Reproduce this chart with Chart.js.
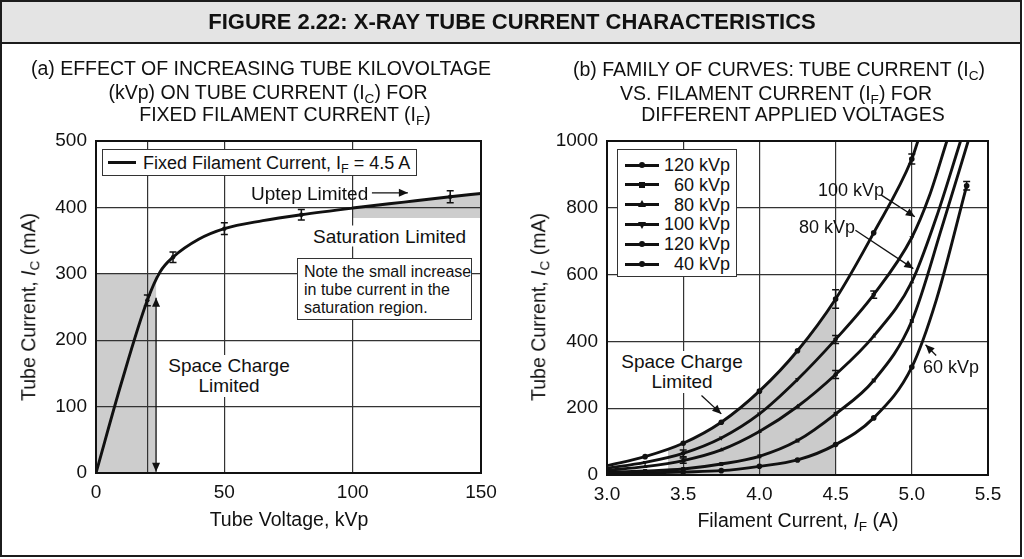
<!DOCTYPE html>
<html><head><meta charset="utf-8">
<script src="https://cdn.jsdelivr.net/npm/chart.js@4.4.1/dist/chart.umd.min.js"></script>
<style>
html,body{margin:0;padding:0;background:#fff;}
#root{position:relative;width:1024px;height:559px;overflow:hidden;font-family:"Liberation Sans",Arial,Helvetica,sans-serif;color:#111;}
#frame{position:absolute;left:0;top:0;width:1018px;height:553px;border:2px solid #1c1c1c;}
#band{position:absolute;left:2px;top:2px;width:1018px;height:40px;background:#e4e4e4;border-bottom:2px solid #1c1c1c;}
canvas{position:absolute;top:0;}
.t{position:absolute;white-space:nowrap;line-height:1;transform:translate(-50%,-50%);}
.l{position:absolute;white-space:nowrap;line-height:1;transform:translateY(-50%);}
sub{font-size:70%;vertical-align:-0.3em;line-height:0;}
.bg{background:#fff;padding:1px 2px;}
.rot{transform:translate(-50%,-50%) rotate(-90deg);}
</style></head>
<body><div id="root">
<div id="frame"></div>
<div id="band"></div>
<canvas id="cl" width="512" height="559" style="left:0"></canvas>
<canvas id="cr" width="512" height="559" style="left:512px"></canvas>

<div class="t" style="left:512px;top:22px;font-size:22px;font-weight:bold;">FIGURE 2.22: X-RAY TUBE CURRENT CHARACTERISTICS</div>

<div class="t" style="left:261px;top:69px;font-size:19.5px;">(a) EFFECT OF INCREASING TUBE KILOVOLTAGE</div>
<div class="t" style="left:268px;top:93px;font-size:19.5px;">(kVp) ON TUBE CURRENT (I<sub>C</sub>) FOR</div>
<div class="t" style="left:285px;top:115px;font-size:19.5px;">FIXED FILAMENT CURRENT (I<sub>F</sub>)</div>

<div class="t" style="left:779px;top:70px;font-size:19.5px;">(b) FAMILY OF CURVES: TUBE CURRENT (I<sub>C</sub>)</div>
<div class="t" style="left:776px;top:94px;font-size:19.5px;">VS. FILAMENT CURRENT (I<sub>F</sub>) FOR</div>
<div class="t" style="left:793px;top:115px;font-size:19.5px;">DIFFERENT APPLIED VOLTAGES</div>

<div class="t rot" style="left:29px;top:307px;font-size:19.5px;">Tube Current, <i>I</i><sub>C</sub> (mA)</div>
<div class="t rot" style="left:539px;top:307px;font-size:19.5px;">Tube Current, <i>I</i><sub>C</sub> (mA)</div>
<div class="t" style="left:289px;top:520px;font-size:19.5px;">Tube Voltage, kVp</div>
<div class="t" style="left:798px;top:521px;font-size:19.5px;">Filament Current, <i>I</i><sub>F</sub> (A)</div>

<!-- left annotations -->
<div style="position:absolute;left:102px;top:149px;width:313px;height:25px;border:1.5px solid #333;background:#fff;"></div>
<div style="position:absolute;left:108px;top:161px;width:28px;height:3px;background:#111;"></div>
<div class="l" style="left:143px;top:163px;font-size:18px;">Fixed Filament Current, I<sub>F</sub> = 4.5 A</div>
<div class="l" style="left:251px;top:193px;font-size:19px;">Uptep Limited</div>
<div class="l bg" style="left:311px;top:236px;font-size:19px;">Saturation Limited</div>
<div style="position:absolute;left:297px;top:258px;border:1.5px solid #333;background:#fff;font-size:16px;line-height:17.8px;padding:4px 0 0 6px;box-sizing:content-box;width:167px;height:56px;white-space:nowrap;">Note the small increase<br>in tube current in the<br>saturation region.</div>
<div class="t bg" style="left:229px;top:376px;font-size:19px;line-height:20px;text-align:center;">Space Charge<br>Limited</div>

<!-- right annotations -->
<div id="rleg" style="position:absolute;left:617px;top:149px;width:118px;height:126px;border:1.5px solid #333;background:#fff;"></div>
<div class="l" style="left:818px;top:190px;font-size:18px;">100 kVp</div>
<div class="l" style="left:799px;top:227px;font-size:18px;">80 kVp</div>
<div class="t bg" style="left:682px;top:372px;font-size:19px;line-height:20px;text-align:center;">Space Charge<br>Limited</div>
<div class="l" style="left:923px;top:367px;font-size:18px;">60 kVp</div>
</div>

<script>
// ---------- (a) Tube current vs tube voltage, IF = 4.5 A ----------
const kvpCurve = [0, 10, 20, 25, 30, 40, 50, 65, 80, 100, 120, 138, 150];
const icCurve  = [0, 137, 260, 303, 325, 352, 368, 380, 389, 399, 408, 416, 421];
const kvpErr   = [20, 30, 50, 80, 138];
const icErr    = [260, 325, 368, 389, 416];
const icErrHalf = [8, 8, 9, 8, 9];
const kvpSpaceShade = [0, 23.5];
const icSpaceShade  = [300, 300];
const kvpSatShade = [100, 120, 138, 150];
const icSatShade  = [399, 408, 416, 421];
const satShadeBase = 384;
const leftXTicks = [0, 20, 50, 100, 150];

// ---------- (b) Tube current vs filament current ----------
const ifA = [3.0, 3.25, 3.5, 3.75, 4.0, 4.25, 4.5, 4.75, 5.0, 5.04];
const icA = [28, 55, 95, 158, 251, 372, 527, 725, 946, 1000];
const ifB = [3.0, 3.25, 3.5, 3.75, 4.0, 4.25, 4.5, 4.75, 5.0, 5.115, 5.23];
const icB = [20, 38, 65, 111, 183, 286, 406, 540, 711, 835, 1000];
const ifC = [3.0, 3.25, 3.5, 3.75, 4.0, 4.25, 4.5, 4.75, 5.0, 5.16, 5.32];
const icC = [14, 25, 43, 75, 130, 205, 301, 416, 578, 770, 1000];
const ifD = [3.0, 3.25, 3.5, 3.75, 4.0, 4.25, 4.5, 4.75, 5.0, 5.2, 5.37];
const icD = [8, 12, 18, 33, 56, 103, 183, 283, 461, 745, 1000];
const ifE = [3.0, 3.25, 3.5, 3.75, 4.0, 4.25, 4.5, 4.75, 5.0, 5.16, 5.36];
const icE = [4, 6, 9, 13, 26, 45, 91, 171, 323, 523, 866];
const markedIf = [3.25, 3.5, 3.75, 4.0, 4.25, 4.5, 4.75, 5.0, 5.36];
const ifErr = [4.5, 5.0, 4.5, 4.75, 4.5, 3.5, 3.5, 5.36];
const icErrB = [527, 946, 406, 540, 301, 65, 43, 866];
const icErrBHalf = [28, 15, 12, 11, 12, 10, 8, 13];
const ifShade = [3.4, 3.5, 3.75, 4.0, 4.25, 4.5];
const icShade = [77, 95, 158, 251, 372, 527];
const legendLabels = ['120 kVp', '60 kVp', '80 kVp', '100 kVp', '120 kVp', '40 kVp'];
const legendMarkers = ['circle', 'rect', 'triangle', 'triangleDown', 'circle', 'circle'];

// annotation arrows (data units)
const leftArrows = [{x1: 107.5, y1: 422, x2: 121.5, y2: 422}];
const leftDoubleArrows = [{x1: 23.4, y1: 2, x2: 23.4, y2: 264}];
const rightArrows = [
  {x1: 4.80, y1: 838, x2: 5.02, y2: 773},
  {x1: 4.63, y1: 733, x2: 5.01, y2: 618},
  {x1: 3.62, y1: 238, x2: 3.75, y2: 183},
  {x1: 5.16, y1: 358, x2: 5.09, y2: 390}
];

const FONT = '"Liberation Sans", Arial, sans-serif';
const INK = '#111';
const pts = (xs, ys) => xs.map((x, i) => ({x, y: ys[i]}));

function head(ctx, x1, y1, x2, y2) {
  const a = Math.atan2(y2 - y1, x2 - x1), L = 9, W = 4;
  ctx.beginPath();
  ctx.moveTo(x2, y2);
  ctx.lineTo(x2 - L * Math.cos(a) + W * Math.sin(a), y2 - L * Math.sin(a) - W * Math.cos(a));
  ctx.lineTo(x2 - L * Math.cos(a) - W * Math.sin(a), y2 - L * Math.sin(a) + W * Math.cos(a));
  ctx.closePath();
  ctx.fill();
}

const decor = {
  id: 'decor',
  afterDatasetsDraw(chart, args, o) {
    const ctx = chart.ctx, xs = chart.scales.x, ys = chart.scales.y;
    ctx.save();
    ctx.strokeStyle = INK; ctx.fillStyle = INK;
    (o.errX || []).forEach((x, i) => {
      const px = xs.getPixelForValue(x);
      const pa = ys.getPixelForValue(o.errY[i] + o.errH[i]);
      const pb = ys.getPixelForValue(o.errY[i] - o.errH[i]);
      ctx.lineWidth = 1.5;
      ctx.beginPath();
      ctx.moveTo(px, pa); ctx.lineTo(px, pb);
      ctx.moveTo(px - 3.5, pa); ctx.lineTo(px + 3.5, pa);
      ctx.moveTo(px - 3.5, pb); ctx.lineTo(px + 3.5, pb);
      ctx.stroke();
      ctx.beginPath(); ctx.arc(px, ys.getPixelForValue(o.errY[i]), 2.2, 0, Math.PI * 2); ctx.fill();
    });
    ctx.lineWidth = 1.3;
    (o.arrows || []).forEach(a => {
      const x1 = xs.getPixelForValue(a.x1), y1 = ys.getPixelForValue(a.y1);
      const x2 = xs.getPixelForValue(a.x2), y2 = ys.getPixelForValue(a.y2);
      ctx.beginPath(); ctx.moveTo(x1, y1); ctx.lineTo(x2, y2); ctx.stroke();
      head(ctx, x1, y1, x2, y2);
    });
    (o.doubles || []).forEach(a => {
      const x1 = xs.getPixelForValue(a.x1), y1 = ys.getPixelForValue(a.y1);
      const x2 = xs.getPixelForValue(a.x2), y2 = ys.getPixelForValue(a.y2);
      ctx.beginPath(); ctx.moveTo(x1, y1); ctx.lineTo(x2, y2); ctx.stroke();
      head(ctx, x1, y1, x2, y2); head(ctx, x2, y2, x1, y1);
    });
    ctx.restore();
  },
  afterDraw(chart) {
    const ctx = chart.ctx, a = chart.chartArea;
    ctx.save();
    ctx.strokeStyle = INK; ctx.lineWidth = 2;
    ctx.strokeRect(a.left, a.top, a.right - a.left, a.bottom - a.top);
    ctx.restore();
  }
};

function axisCommon(min, max, step, fitKey, fitVal, pad) {
  return {
    type: 'linear', min, max,
    ticks: {stepSize: step, color: INK, font: {family: FONT, size: 19}, padding: pad, autoSkip: false, maxRotation: 0,
            callback: v => String(v)},
    grid: {color: '#333', lineWidth: 1.2, drawTicks: false},
    border: {display: false},
    afterFit(s) { s[fitKey] = fitVal; }
  };
}

const curveStyle = {borderColor: INK, borderWidth: 2.9, fill: false, cubicInterpolationMode: 'monotone', pointRadius: 0};

// ---------- left chart ----------
const lx = axisCommon(0, 150, 50, 'height', 86, 8);
lx.afterBuildTicks = s => { s.ticks = leftXTicks.map(v => ({value: v})); };
lx.ticks.callback = v => (v === 20 ? '' : String(v));
const ly = axisCommon(0, 500, 100, 'width', 96, 9);

new Chart(document.getElementById('cl'), {
  type: 'line',
  data: {datasets: [
    Object.assign({label: 'Fixed Filament Current', data: pts(kvpCurve, icCurve), order: 0}, curveStyle),
    {label: 'space', data: pts(kvpSpaceShade, icSpaceShade), fill: 'origin', backgroundColor: '#cdcdcd', borderWidth: 0, pointRadius: 0, order: 5},
    {label: 'sat', data: pts(kvpSatShade, icSatShade), fill: {value: satShadeBase}, backgroundColor: '#cdcdcd', borderWidth: 0, pointRadius: 0, cubicInterpolationMode: 'monotone', order: 5}
  ]},
  options: {
    responsive: false, animation: false, devicePixelRatio: 1,
    layout: {padding: {left: 0, right: 31, top: 141, bottom: 0}},
    scales: {x: lx, y: ly},
    plugins: {
      legend: {display: false}, tooltip: {enabled: false},
      filler: {drawTime: 'beforeDraw'},
      decor: {errX: kvpErr, errY: icErr, errH: icErrHalf, arrows: leftArrows, doubles: leftDoubleArrows}
    }
  },
  plugins: [decor]
});

// ---------- right chart ----------
const rx = axisCommon(3.0, 5.5, 0.5, 'height', 84, 8);
rx.ticks.callback = v => Number(v).toFixed(1);
const ry = axisCommon(0, 1000, 200, 'width', 95, 9);
const isMarked = c => c.raw && markedIf.some(m => Math.abs(m - c.raw.x) < 1e-6);
const curves = [
  [ifA, icA, 'circle', 0], [ifB, icB, 'triangle', 180], [ifC, icC, 'triangle', 0],
  [ifD, icD, 'rect', 0], [ifE, icE, 'circle', 0]
].map(([xs, ys, ps, rot], i) => Object.assign({}, curveStyle, {
  label: 'curve' + i, data: pts(xs, ys), order: 0,
  pointStyle: ps, rotation: rot, pointBackgroundColor: INK, pointBorderColor: INK, pointBorderWidth: 0,
  pointRadius: c => (isMarked(c) ? 2.8 : 0)
}));
curves.push({label: 'shade', data: pts(ifShade, icShade), fill: 'origin', backgroundColor: '#cbcbcb', borderWidth: 0, pointRadius: 0, cubicInterpolationMode: 'monotone', order: 5});

new Chart(document.getElementById('cr'), {
  type: 'line',
  data: {datasets: curves},
  options: {
    responsive: false, animation: false, devicePixelRatio: 1,
    layout: {padding: {left: 0, right: 36, top: 141, bottom: 0}},
    scales: {x: rx, y: ry},
    plugins: {
      legend: {display: false}, tooltip: {enabled: false},
      filler: {drawTime: 'beforeDraw'},
      decor: {errX: ifErr, errY: icErrB, errH: icErrBHalf, arrows: rightArrows}
    }
  },
  plugins: [decor]
});

// ---------- right legend (HTML) ----------
const leg = document.getElementById('rleg');
legendLabels.forEach((lab, i) => {
  const cy = 15 + i * 19.8;
  const row = document.createElement('div');
  row.style.cssText = 'position:absolute;left:0;top:' + (cy - 10) + 'px;width:118px;height:20px;';
  const line = document.createElement('div');
  line.style.cssText = 'position:absolute;left:7px;top:8.5px;width:34px;height:3px;background:#111;';
  row.appendChild(line);
  const m = document.createElement('div');
  const kind = legendMarkers[i];
  if (kind === 'circle') m.style.cssText = 'position:absolute;left:21px;top:7px;width:6px;height:6px;border-radius:50%;background:#111;';
  else if (kind === 'rect') m.style.cssText = 'position:absolute;left:21px;top:7px;width:6px;height:6px;background:#111;';
  else if (kind === 'triangle') m.style.cssText = 'position:absolute;left:20px;top:5px;width:0;height:0;border-left:4px solid transparent;border-right:4px solid transparent;border-bottom:7px solid #111;';
  else m.style.cssText = 'position:absolute;left:20px;top:8px;width:0;height:0;border-left:4px solid transparent;border-right:4px solid transparent;border-top:7px solid #111;';
  row.appendChild(m);
  const t = document.createElement('div');
  t.textContent = lab;
  t.style.cssText = 'position:absolute;right:6px;top:1px;font-size:18px;line-height:18px;white-space:nowrap;';
  row.appendChild(t);
  leg.appendChild(row);
});
</script>
</body></html>
